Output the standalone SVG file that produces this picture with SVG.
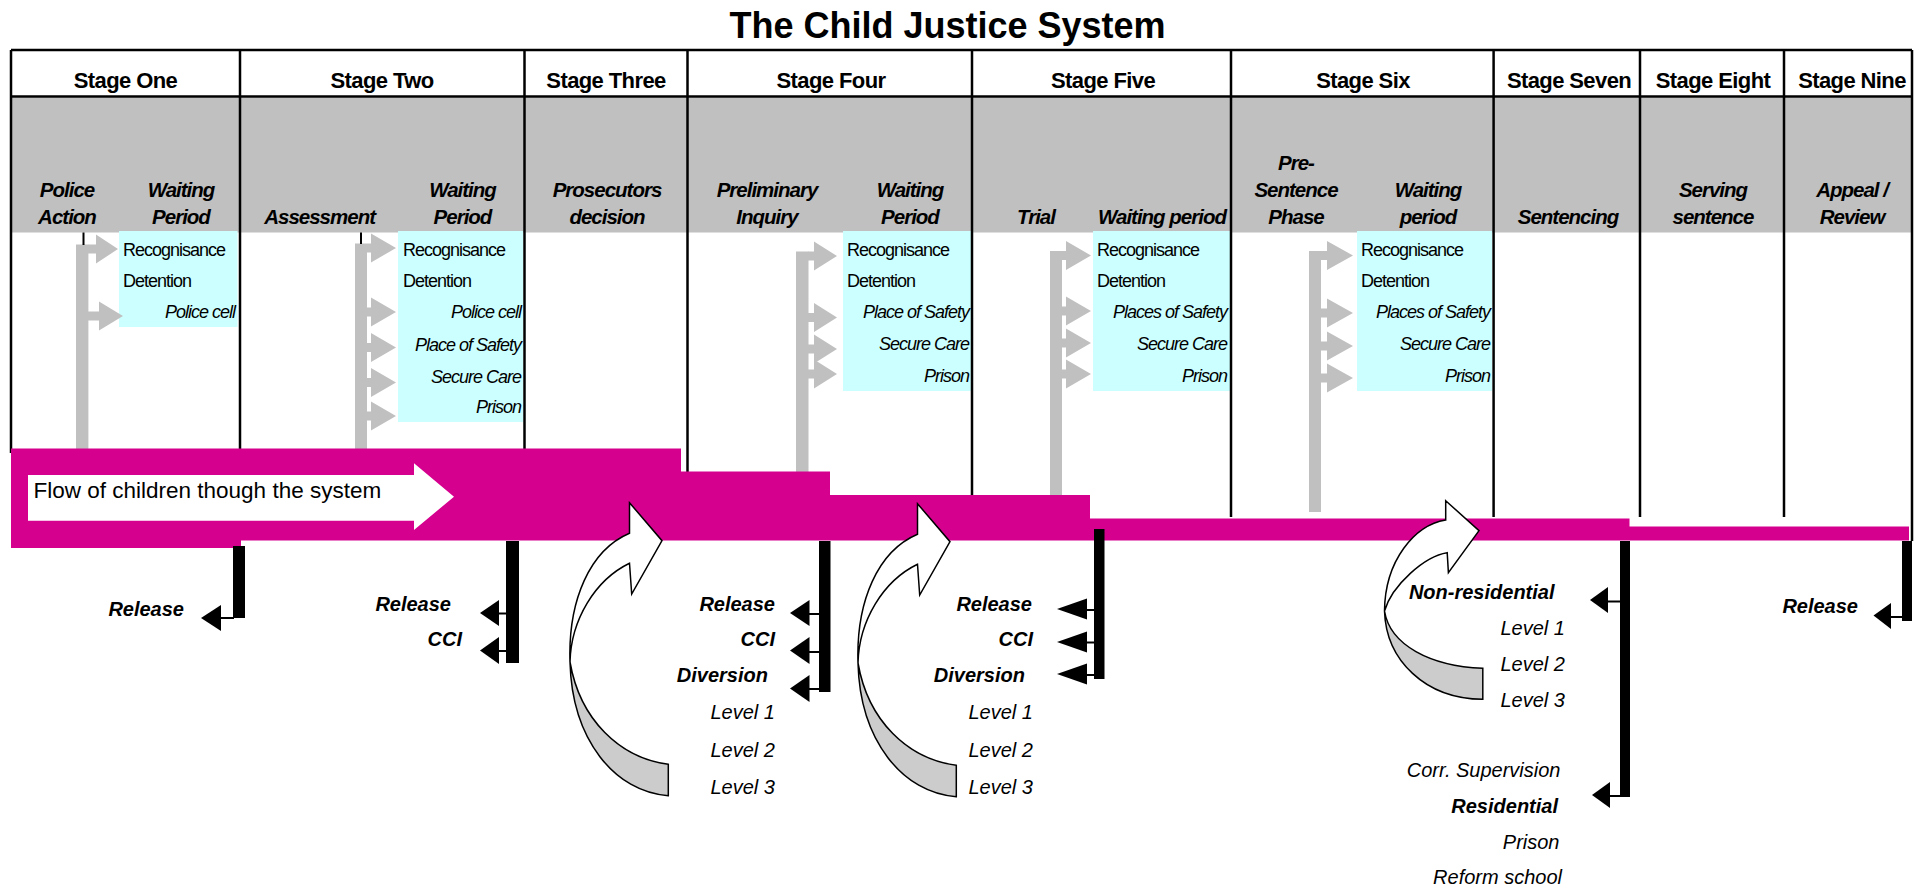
<svg xmlns="http://www.w3.org/2000/svg" width="1921" height="891" viewBox="0 0 1921 891">
<style>
text{font-family:"Liberation Sans",Arial,sans-serif;fill:#000}
.ttl{font-weight:bold;font-size:36px;text-anchor:middle}
.hd{font-weight:bold;font-size:22px;letter-spacing:-0.6px;text-anchor:middle}
.gl{font-weight:bold;font-style:italic;font-size:20.5px;letter-spacing:-1px;text-anchor:middle}
.bx{font-size:18px;letter-spacing:-1px}
.bxi{font-size:18px;letter-spacing:-1px;font-style:italic;text-anchor:end}
.out{font-weight:bold;font-style:italic;font-size:20px;text-anchor:end}
.lvl{font-style:italic;font-size:20px;text-anchor:end}
.flow{font-size:22.5px}
.ln{stroke:#000;stroke-width:2.5;fill:none}
.tk{stroke:#000;stroke-width:2;fill:none}
.gray{fill:#C0C0C0}
.cyan{fill:#CCFFFF}
.mag{fill:#D6008F}
.blk{fill:#000}
.cw{fill:#fff;stroke:#000;stroke-width:1.5}
.cg{fill:#CCCCCC;stroke:#000;stroke-width:1.5}
</style>
<defs>
<g id="curveA">
<path class="cg" d="M570,662 C572,740 615,792 668.3,795.7 L668.3,764.3 C620,758 580,720 570,662 Z"/>
<path class="cw" d="M629.5,502.7 L662,540.7 L631.7,594 L629.5,563.3 C595,580 571,620 570,662 C568,600 590,550 629.5,533.3 Z"/>
</g>
</defs>
<rect x="0" y="0" width="1921" height="891" fill="#fff"/>
<text class="ttl" x="947.5" y="37.5">The Child Justice System</text>

<!-- table background -->
<g id="table">
<rect class="gray" x="11" y="97.5" width="1901" height="135"/>
<rect class="cyan" x="119" y="231" width="118.5" height="96"/>
<rect class="cyan" x="398" y="231" width="125" height="191"/>
<rect class="cyan" x="843" y="231" width="129" height="160"/>
<rect class="cyan" x="1093" y="231" width="137" height="160"/>
<rect class="cyan" x="1357" y="231" width="135" height="160"/>
</g>

<!-- gray branch arrows -->
<g id="waiting-arrows" class="gray">
<rect x="76" y="244.5" width="12.4" height="205"/>
<polygon points="88,244.5 96,244.5 96,234.5 118,249 96,263.5 96,253.5 88,253.5"/>
<polygon points="88,311.5 99,311.5 99,301.5 123,316 99,330.5 99,320.5 88,320.5"/>
<rect x="355" y="243.5" width="12" height="206"/>
<polygon points="367,243.5 371,243.5 371,233.5 396,248 371,262.5 371,252.5 367,252.5"/>
<polygon points="367,307.5 371,307.5 371,297.5 396,312 371,326.5 371,316.5 367,316.5"/>
<polygon points="367,343 371,343 371,333 396,347.5 371,362 371,352 367,352"/>
<polygon points="367,378 371,378 371,368 396,382.5 371,397 371,387 367,387"/>
<polygon points="367,411.5 371,411.5 371,401.5 396,416 371,430.5 371,420.5 367,420.5"/>
<rect x="796" y="251.5" width="12.5" height="222"/>
<polygon points="808,251.5 814,251.5 814,241.5 837,256 814,270.5 814,260.5 808,260.5"/>
<polygon points="808,313 814,313 814,303 837,317.5 814,332 814,322 808,322"/>
<polygon points="808,344.5 814,344.5 814,334.5 837,349 814,363.5 814,353.5 808,353.5"/>
<polygon points="808,369.5 814,369.5 814,359.5 837,374 814,388.5 814,378.5 808,378.5"/>
<rect x="1050" y="251" width="12" height="245"/>
<polygon points="1062,251 1066,251 1066,241 1091,255.5 1066,270 1066,260 1062,260"/>
<polygon points="1062,306.5 1066,306.5 1066,296.5 1091,311 1066,325.5 1066,315.5 1062,315.5"/>
<polygon points="1062,338.5 1066,338.5 1066,328.5 1091,343 1066,357.5 1066,347.5 1062,347.5"/>
<polygon points="1062,369.5 1066,369.5 1066,359.5 1091,374 1066,388.5 1066,378.5 1062,378.5"/>
<rect x="1309" y="251" width="12" height="261"/>
<polygon points="1321,251 1327,251 1327,241 1353,255.5 1327,270 1327,260 1321,260"/>
<polygon points="1321,308.5 1327,308.5 1327,298.5 1353,313 1327,327.5 1327,317.5 1321,317.5"/>
<polygon points="1321,341.5 1327,341.5 1327,331.5 1353,346 1327,360.5 1327,350.5 1321,350.5"/>
<polygon points="1321,373.5 1327,373.5 1327,363.5 1353,378 1327,392.5 1327,382.5 1321,382.5"/>
</g>

<!-- grid lines -->
<g id="grid">
<line class="ln" x1="11" y1="50" x2="1912" y2="50"/>
<line class="ln" x1="11" y1="96.5" x2="1912" y2="96.5"/>
<line class="ln" x1="11" y1="50" x2="11" y2="453"/>
<line class="ln" x1="240" y1="50" x2="240" y2="449"/>
<line class="ln" x1="524.5" y1="50" x2="524.5" y2="449"/>
<line class="ln" x1="687.5" y1="50" x2="687.5" y2="472"/>
<line class="ln" x1="972" y1="50" x2="972" y2="496"/>
<line class="ln" x1="1231" y1="50" x2="1231" y2="517"/>
<line class="ln" x1="1493.6" y1="50" x2="1493.6" y2="517"/>
<line class="ln" x1="1640" y1="50" x2="1640" y2="517"/>
<line class="ln" x1="1784" y1="50" x2="1784" y2="517"/>
<line class="ln" x1="1912" y1="50" x2="1912" y2="541"/>
<line class="tk" x1="83.5" y1="232.5" x2="83.5" y2="245"/>
<line class="tk" x1="361" y1="232.5" x2="361" y2="244"/>
</g>

<g id="stage1">
<text class="hd" x="125.5" y="88">Stage One</text>
<text class="gl" x="67" y="197">Police</text>
<text class="gl" x="67" y="224">Action</text>
<text class="gl" x="181" y="197">Waiting</text>
<text class="gl" x="181" y="224">Period</text>
<text class="bx" x="123" y="256">Recognisance</text>
<text class="bx" x="123" y="287">Detention</text>
<text class="bxi" x="235" y="318">Police cell</text>
<text class="out" x="184" y="616">Release</text>
</g>

<g id="stage2">
<text class="hd" x="382" y="88">Stage Two</text>
<text class="gl" x="319.6" y="224">Assessment</text>
<text class="gl" x="462.5" y="197">Waiting</text>
<text class="gl" x="462.5" y="224">Period</text>
<text class="bx" x="403" y="256">Recognisance</text>
<text class="bx" x="403" y="287">Detention</text>
<text class="bxi" x="521" y="318">Police cell</text>
<text class="bxi" x="521" y="351">Place of Safety</text>
<text class="bxi" x="521" y="382.5">Secure Care</text>
<text class="bxi" x="521" y="413">Prison</text>
<text class="out" x="451" y="611">Release</text>
<text class="out" x="462" y="646">CCI</text>
</g>

<g id="stage3">
<text class="hd" x="606" y="88">Stage Three</text>
<text class="gl" x="607" y="197">Prosecutors</text>
<text class="gl" x="607" y="224">decision</text>
</g>

<g id="stage4">
<text class="hd" x="831" y="88">Stage Four</text>
<text class="gl" x="767" y="197">Preliminary</text>
<text class="gl" x="767" y="224">Inquiry</text>
<text class="gl" x="910" y="197">Waiting</text>
<text class="gl" x="910" y="224">Period</text>
<text class="bx" x="847" y="256">Recognisance</text>
<text class="bx" x="847" y="287">Detention</text>
<text class="bxi" x="969" y="318">Place of Safety</text>
<text class="bxi" x="969" y="350">Secure Care</text>
<text class="bxi" x="969" y="381.5">Prison</text>
<text class="out" x="775" y="611">Release</text>
<text class="out" x="775" y="646">CCI</text>
<text class="out" x="768" y="682">Diversion</text>
<text class="lvl" x="775" y="719">Level 1</text>
<text class="lvl" x="775" y="757">Level 2</text>
<text class="lvl" x="775" y="794">Level 3</text>
</g>

<g id="stage5">
<text class="hd" x="1103" y="88">Stage Five</text>
<text class="gl" x="1036" y="224">Trial</text>
<text class="gl" x="1162" y="224">Waiting period</text>
<text class="bx" x="1097" y="256">Recognisance</text>
<text class="bx" x="1097" y="287">Detention</text>
<text class="bxi" x="1227" y="318">Places of Safety</text>
<text class="bxi" x="1227" y="350">Secure Care</text>
<text class="bxi" x="1227" y="381.5">Prison</text>
<text class="out" x="1032" y="611">Release</text>
<text class="out" x="1033" y="646">CCI</text>
<text class="out" x="1025" y="682">Diversion</text>
<text class="lvl" x="1033" y="719">Level 1</text>
<text class="lvl" x="1033" y="757">Level 2</text>
<text class="lvl" x="1033" y="794">Level 3</text>
</g>

<g id="stage6">
<text class="hd" x="1363" y="88">Stage Six</text>
<text class="gl" x="1296" y="170">Pre-</text>
<text class="gl" x="1296" y="197">Sentence</text>
<text class="gl" x="1296" y="224">Phase</text>
<text class="gl" x="1428" y="197">Waiting</text>
<text class="gl" x="1428" y="224">period</text>
<text class="bx" x="1361" y="256">Recognisance</text>
<text class="bx" x="1361" y="287">Detention</text>
<text class="bxi" x="1490" y="318">Places of Safety</text>
<text class="bxi" x="1490" y="350">Secure Care</text>
<text class="bxi" x="1490" y="381.5">Prison</text>
</g>

<g id="stage7">
<text class="hd" x="1569" y="88">Stage Seven</text>
<text class="gl" x="1568" y="224">Sentencing</text>
<text class="out" x="1554.5" y="599">Non-residential</text>
<text class="lvl" x="1565" y="635">Level 1</text>
<text class="lvl" x="1565" y="671">Level 2</text>
<text class="lvl" x="1565" y="707">Level 3</text>
<text class="lvl" x="1560.5" y="777">Corr. Supervision</text>
<text class="out" x="1558" y="813">Residential</text>
<text class="lvl" x="1559.5" y="849">Prison</text>
<text class="lvl" x="1562" y="884">Reform school</text>
</g>

<g id="stage8">
<text class="hd" x="1713" y="88">Stage Eight</text>
<text class="gl" x="1713" y="197">Serving</text>
<text class="gl" x="1713" y="224">sentence</text>
</g>

<g id="stage9">
<text class="hd" x="1852" y="88">Stage Nine</text>
<text class="gl" x="1852" y="197">Appeal /</text>
<text class="gl" x="1852" y="224">Review</text>
<text class="out" x="1858" y="612.5">Release</text>
</g>

<g id="connectors">
<path class="mag" d="M11,448.5 H681 V471.5 H830 V495 H1090 V518.5 H1629.5 V526.5 H1909 V540.5 H241 V548 H11 Z"/>
<polygon fill="#fff" points="28,475 414,475 414,463.3 454,496.7 414,530 414,520.7 28,520.7"/>
<text class="flow" x="33.5" y="498">Flow of children though the system</text>

<rect class="blk" x="233" y="546" width="12" height="72"/>
<line class="tk" x1="219" y1="618" x2="234" y2="618"/>
<polygon class="blk" points="201,618 221,605 221,631"/>

<rect class="blk" x="506" y="541" width="13" height="122"/>
<line class="tk" x1="497" y1="613.5" x2="507" y2="613.5"/>
<polygon class="blk" points="480,613 499,600 499,626"/>
<line class="tk" x1="497" y1="651" x2="507" y2="651"/>
<polygon class="blk" points="480,650.5 499,637 499,664"/>

<rect class="blk" x="819" y="541" width="11.5" height="151"/>
<line class="tk" x1="808" y1="614" x2="820" y2="614"/>
<polygon class="blk" points="790,613 809.5,600 809.5,626"/>
<line class="tk" x1="808" y1="652" x2="820" y2="652"/>
<polygon class="blk" points="790,650.5 809.5,637 809.5,664"/>
<line class="tk" x1="808" y1="689" x2="820" y2="689"/>
<polygon class="blk" points="790,688.5 809.5,675 809.5,702"/>

<rect class="blk" x="1094" y="529" width="10.5" height="150"/>
<line class="tk" x1="1085" y1="610" x2="1095" y2="610"/>
<polygon class="blk" points="1057,609 1087,598.5 1087,619.5"/>
<line class="tk" x1="1085" y1="642.5" x2="1095" y2="642.5"/>
<polygon class="blk" points="1057,642 1087,631.5 1087,652.5"/>
<line class="tk" x1="1085" y1="675" x2="1095" y2="675"/>
<polygon class="blk" points="1057,674 1087,663.5 1087,684.5"/>

<rect class="blk" x="1620" y="541" width="10" height="256"/>
<line class="tk" x1="1606" y1="601.5" x2="1621" y2="601.5"/>
<polygon class="blk" points="1590,600 1608,587 1608,613"/>
<line class="tk" x1="1608" y1="796" x2="1621" y2="796"/>
<polygon class="blk" points="1592,795 1610,782 1610,808"/>

<rect class="blk" x="1902" y="541" width="10" height="80"/>
<line class="tk" x1="1889" y1="617" x2="1903" y2="617"/>
<polygon class="blk" points="1873.5,615.5 1891,603 1891,629"/>

<use href="#curveA"/>
<use href="#curveA" transform="translate(288,1)"/>
<path class="cg" d="M1384.5,611 C1386,660 1425,699 1482.8,699.3 L1482.8,668.3 C1430,666 1390,645 1384.5,611 Z"/>
<path class="cw" d="M1445.7,500.7 L1479,530.7 L1448.4,572.7 L1447.2,552.7 C1425,556 1392,585 1384.5,611 C1385,560 1415,525 1445.7,520 Z"/>
</g>
</svg>
